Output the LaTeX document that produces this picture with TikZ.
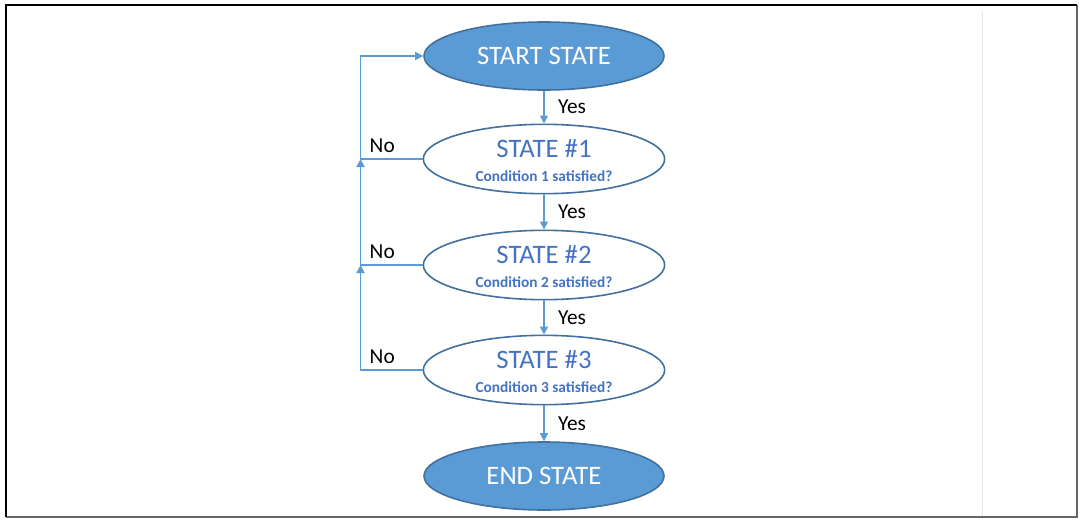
\documentclass[tikz,border=0pt]{standalone}
\usepackage{fontspec}
\setmainfont{Carlito}
\usetikzlibrary{shapes.geometric,arrows.meta}
\definecolor{stfill}{HTML}{5B9BD5}
\definecolor{stline}{HTML}{41719C}
\definecolor{sttext}{HTML}{4472C4}
\newcommand\stcond[1]{{\fontsize{11.5}{12}\selectfont\bfseries #1}}
\begin{document}
\begin{tikzpicture}[x=0.75pt,y=-0.75pt,
 endstate/.style={ellipse,draw=stline,line width=1.2pt,fill=stfill,text=white,minimum width=180pt,minimum height=51pt,inner sep=0pt,font=\fontsize{20}{22}\selectfont},
 midstate/.style={ellipse,draw=stline,line width=1.2pt,fill=white,text=sttext,minimum width=181pt,minimum height=52pt,inner sep=0pt,text depth=0pt,align=center,font=\fontsize{20}{18}\selectfont},
 link/.style={draw=stfill,line width=1.2pt,-{Triangle[length=6pt,width=6pt]}},
 lbl/.style={inner sep=0pt,font=\fontsize{16}{18}\selectfont}]
 \useasboundingbox (0,0) rectangle (1082,521);
 \draw[black!10,line width=0.6pt](982,12)--(982,517);
 \draw[black!60,line width=1.1pt](1077,5)--(1077,517)--(6,517);
 \draw[black,line width=1.5pt](6,517)--(6,5)--(1077,5);
 \node[endstate] (start) at (544,56) {START STATE};
 \node[midstate] (s1) at (544,159) {\rule{0pt}{16pt}STATE \#1\\\stcond{Condition 1 satisfied?}};
 \node[midstate] (s2) at (544,265) {\rule{0pt}{16pt}STATE \#2\\\stcond{Condition 2 satisfied?}};
 \node[midstate] (s3) at (544,370) {\rule{0pt}{16pt}STATE \#3\\\stcond{Condition 3 satisfied?}};
 \node[endstate] (end) at (544,476) {END STATE};
 \path (s1.west) ++(-62,0) coordinate (j1);
 \path (s2.west) ++(-62,0) coordinate (j2);
 \path (s3.west) ++(-62,0) coordinate (j3);
 \draw[link] (start) -- node[lbl,right=10pt]{Yes} (s1);
 \draw[link] (s1) -- node[lbl,right=10pt]{Yes} (s2);
 \draw[link] (s2) -- node[lbl,right=10pt]{Yes} (s3);
 \draw[link] (s3) -- node[lbl,right=10pt]{Yes} (end);
 \draw[link] (s1.west) -- node[lbl,above=4.5pt,pos=0.65]{No} (j1) |- (start.west);
 \draw[link] (s2.west) -- node[lbl,above=4.5pt,pos=0.65]{No} (j2) -- (j1);
 \draw[link] (s3.west) -- node[lbl,above=4.5pt,pos=0.65]{No} (j3) -- (j2);
\end{tikzpicture}
\end{document}
